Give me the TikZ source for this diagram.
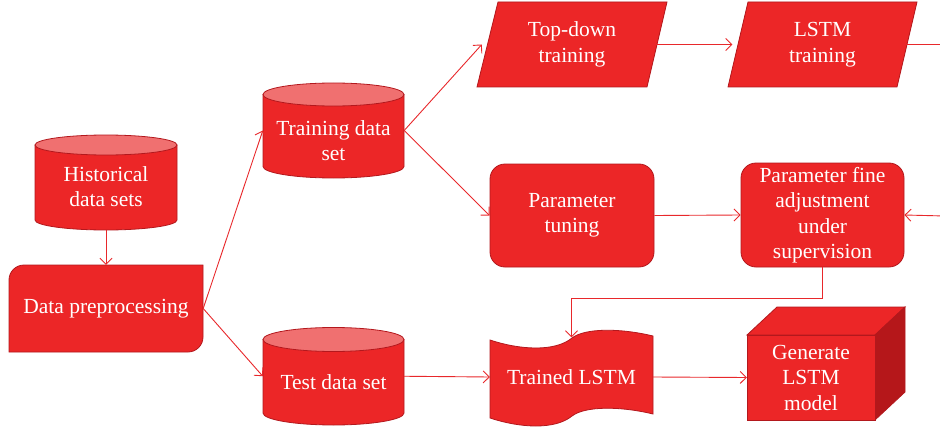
\documentclass[tikz,border=0pt]{standalone}
\usepackage{fontspec}
\setmainfont{Liberation Serif}
\usetikzlibrary{arrows.meta}
\definecolor{fillred}{HTML}{EC2627}
\definecolor{edgered}{HTML}{B3181D}
\definecolor{topred}{HTML}{F07070}
\definecolor{sidered}{HTML}{B5171A}
\definecolor{linered}{HTML}{E8282B}
\begin{document}
\begin{tikzpicture}[x=1pt,y=-1pt,
  shp/.style={fill=fillred, draw=edgered, line width=0.8pt},
  cyltop/.style={fill=topred, draw=edgered, line width=0.8pt},
  sideface/.style={fill=sidered, draw=edgered, line width=0.8pt},
  txt/.style={font=\fontsize{21.5}{25.5}\selectfont, text=white, align=center, inner sep=0pt},
  hit/.style={draw=none, inner sep=0pt},
  conn/.style={draw=linered, line width=0.9pt, -{Straight Barb[length=6pt,width=12pt]}},
  plain/.style={draw=linered, line width=0.9pt}]
\useasboundingbox (0,0) rectangle (940,428);

% ---- shapes drawn directly ----
% Historical data sets cylinder
\path[shp] (35,145) -- (35,220) arc[start angle=180,end angle=360,x radius=71pt,y radius=10pt] -- (177,145) -- cycle;
\path[cyltop] (106,145) ellipse[x radius=71pt,y radius=10pt];
% Training data set cylinder
\path[shp] (263,94.5) -- (263,166.5) arc[start angle=180,end angle=360,x radius=70.5pt,y radius=11.5pt] -- (404,94.5) -- cycle;
\path[cyltop] (333.5,94.5) ellipse[x radius=70.5pt,y radius=11.5pt];
% Test data set cylinder
\path[shp] (263,339.5) -- (263,413) arc[start angle=180,end angle=360,x radius=70.5pt,y radius=12pt] -- (404,339.5) -- cycle;
\path[cyltop] (333.5,339.5) ellipse[x radius=70.5pt,y radius=12pt];
% Data preprocessing
\path[shp] (9,352) -- (9,280) arc[start angle=180,end angle=90,radius=15pt] -- (203,265) -- (203,337) arc[start angle=0,end angle=-90,radius=15pt] -- cycle;
% Parallelograms
\path[shp] (498,2) -- (667,2) -- (647,87) -- (477,87) -- cycle;
\path[shp] (748,2) -- (917,2) -- (897,87) -- (728,87) -- cycle;
% Trained LSTM tape
\path[shp] (490,340) .. controls (520,350) and (555,352) .. (572,338) .. controls (585,328) and (620,328) .. (653,336)
  -- (653,414) .. controls (620,406) and (585,406) .. (572,416) .. controls (555,430) and (520,428) .. (490,418) -- cycle;
% Cube
\path[shp] (747,335) -- (777,307) -- (905,307) -- (875,335) -- cycle;
\path[sideface] (875,335) -- (905,307) -- (905,392) -- (875,420) -- cycle;
\path[shp] (747,335) rectangle (875,420);

% ---- nodes ----
\node[hit, minimum width=142pt, minimum height=95pt] (hist) at (106,182.5) {};
\node[txt] (histT) at (106,186.5) {Historical\\data sets};
\node[hit, minimum width=141pt, minimum height=95pt] (train) at (333.5,130.5) {};
\node[txt] (trainT) at (333.5,140.5) {Training data\\set};
\node[hit, minimum width=141pt, minimum height=97.5pt] (test) at (333.5,376.25) {};
\node[txt] (testT) at (333.5,382) {Test data set};
\node[hit, txt, minimum width=194pt, minimum height=87pt] (pre) at (106,308.5) {Data preprocessing};
\node[hit, txt, minimum width=170pt, minimum height=85pt] (td) at (572,44.5) {Top-down\\training};
\node[hit, txt, minimum width=170pt, minimum height=85pt] (lt) at (822.5,44.5) {LSTM\\training};
\node[txt, shp, rounded corners=15pt, minimum width=164pt, minimum height=103pt] (pt) at (572,215.5) {Parameter\\tuning};
\node[txt, shp, rounded corners=15pt, minimum width=163pt, minimum height=104pt] (pf) at (822.5,215) {Parameter fine\\adjustment\\under\\supervision};
\node[hit, txt, minimum width=163pt, minimum height=79pt] (tl) at (571.5,377) {Trained LSTM};
\node[hit, txt, minimum width=128pt, minimum height=85pt] (gen) at (811,377.5) {Generate\\LSTM\\model};
\coordinate (out1) at (945,44.5);
\coordinate (in1) at (945,216);

% ---- connectors ----
\draw[conn] (hist.south) -- (pre.north);
\draw[conn] (pre.east) -- (train.west);
\draw[conn] (pre.east) -- (test.west);
\draw[conn] (train.east) -- ([xshift=-5pt]td.west);
\draw[conn] (train.east) -- (pt.west);
\draw[conn] (test.east) -- (tl.west);
\draw[conn] ([xshift=-5pt]td.east) -- ([xshift=-5pt]lt.west);
\draw[plain] ([xshift=-5pt]lt.east) -- (out1);
\draw[conn] (in1) -- (pf.east);
\draw[conn] (pt.east) -- (pf.west);
\draw[conn] (pf.south) -- ++(0,31) -| (tl.north);
\draw[conn] (tl.east) -- (gen.west);
\end{tikzpicture}
\end{document}
